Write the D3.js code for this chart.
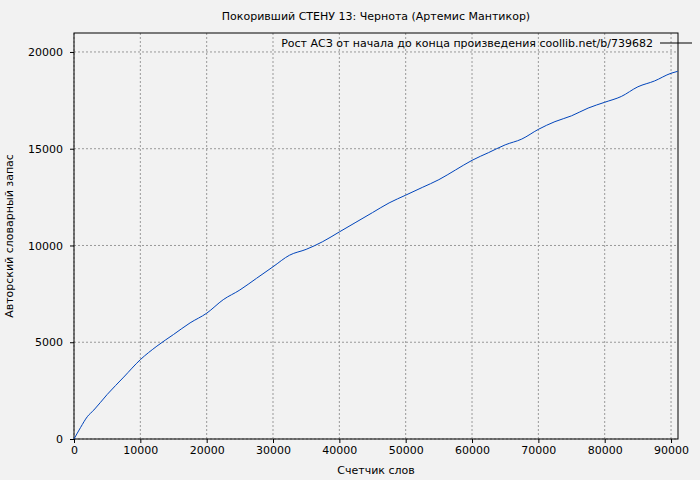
<!DOCTYPE html><html><head><meta charset="utf-8"><script src="https://cdn.jsdelivr.net/npm/d3@7"></script>
<style>body{margin:0;background:#f2f2f2}text{font-family:"DejaVu Sans";font-size:11px;fill:#000}</style></head><body><svg id="c" width="700" height="480"></svg><script>
const xs=[0,1000,2000,3000,5000,7500,10000,12500,15000,17500,20000,22500,25000,27500,30000,32500,35000,37500,40000,42500,45000,47500,50000,52500,55000,57500,60000,62500,65000,67500,70000,72500,75000,77500,80000,82500,85000,87500,90000,91000];
const ys=[0,600,1150,1500,2300,3200,4100,4800,5400,6000,6500,7200,7700,8300,8900,9500,9800,10200,10700,11200,11700,12200,12600,13000,13400,13900,14400,14800,15200,15500,16000,16400,16700,17100,17400,17700,18200,18500,18900,19000];
const xTicks=[0,10000,20000,30000,40000,50000,60000,70000,80000,90000];
const yTicks=[0,5000,10000,15000,20000];
const svg=d3.select("#c");
const L=74,R=678,T=33,B=439;
const x=d3.scaleLinear().domain([0,91050]).range([L,R]);
const y=d3.scaleLinear().domain([0,20980]).range([B,T]);
svg.append("rect").attr("width",700).attr("height",480).attr("fill","#f2f2f2");
const g=svg.append("g");
xTicks.forEach(t=>g.append("line").attr("x1",x(t)).attr("x2",x(t)).attr("y1",T).attr("y2",B).attr("stroke","#999").attr("stroke-dasharray","2,2"));
yTicks.forEach(t=>g.append("line").attr("y1",y(t)).attr("y2",y(t)).attr("x1",L).attr("x2",R).attr("stroke","#999").attr("stroke-dasharray","2,2"));
const xa=svg.append("g").attr("transform",`translate(0,${B})`).call(d3.axisBottom(x).tickValues(xTicks).tickSize(4).tickFormat(d3.format("d")));
const ya=svg.append("g").attr("transform",`translate(${L},0)`).call(d3.axisLeft(y).tickValues(yTicks).tickSize(4).tickFormat(d3.format("d")));
[xa,ya].forEach(a=>{a.select(".domain").remove();a.selectAll("text").attr("font-family","DejaVu Sans").attr("font-size",11).attr("fill","#000");});
ya.selectAll("text").attr("dx",-4);
svg.append("rect").attr("x",L).attr("y",T).attr("width",R-L).attr("height",B-T).attr("fill","none").attr("stroke","#000");
svg.append("path").datum(xs.map((v,i)=>[v,ys[i]])).attr("d",d3.line().x(d=>x(d[0])).y(d=>y(d[1])).curve(d3.curveMonotoneX)).attr("fill","none").attr("stroke","#0044bb").attr("stroke-width",1);
svg.append("text").attr("x",376).attr("y",20).attr("text-anchor","middle").attr("font-size","10.5px").text("Покоривший СТЕНУ 13: Чернота (Артемис Мантикор)");
svg.append("text").attr("x",653).attr("y",47).attr("text-anchor","end").text("Рост АСЗ от начала до конца произведения coollib.net/b/739682");
svg.append("line").attr("x1",660).attr("x2",692).attr("y1",43).attr("y2",43).attr("stroke","#000");
svg.append("text").attr("x",376).attr("y",474).attr("text-anchor","middle").text("Счетчик слов");
svg.append("text").attr("transform","translate(13,236) rotate(-90)").attr("text-anchor","middle").text("Авторский словарный запас");
</script></body></html>
